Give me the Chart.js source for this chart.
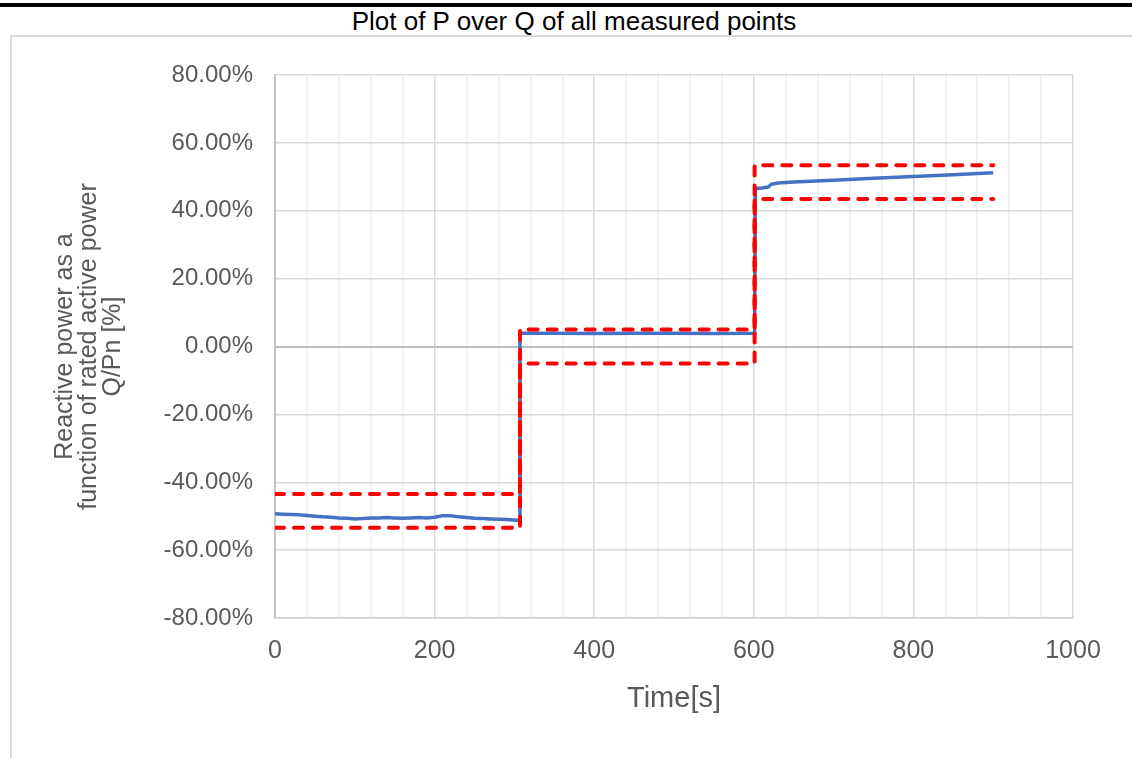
<!DOCTYPE html>
<html>
<head>
<meta charset="utf-8">
<script src="https://cdn.jsdelivr.net/npm/chart.js@4.4.1/dist/chart.umd.min.js"></script>
<style>
  html, body { margin:0; padding:0; background:#fff; }
  body { width:1132px; height:758px; position:relative; overflow:hidden; font-family:"Liberation Sans", Arial, sans-serif; }
  #topline { position:absolute; left:0; top:3px; width:1132px; height:4px; background:#000; }
  #title { position:absolute; left:0; top:6px; width:1148px; text-align:center; font-size:26px; color:#000; }
  #frame { position:absolute; left:10px; top:35px; width:1140px; height:740px; border-left:2px solid #d9d9d9; border-top:2px solid #d9d9d9; }
  #wrap { position:absolute; left:0; top:0; width:1132px; height:758px; }
</style>
</head>
<body>
<div id="topline"></div>
<div id="title">Plot of P over Q of all measured points</div>
<div id="frame"></div>
<div id="wrap"><canvas id="chart" width="1132" height="758"></canvas></div>
<script>
// 측정값 (Time[s], Q/Pn [%])
const measTime = [0,10,20,30,40,50,60,70,80,90,100,110,120,130,140,150,160,170,180,190,200,210,220,230,240,250,260,270,280,290,300,306,
                  307,350,400,450,500,550,601,
                  602,610,618,622,630,650,700,750,800,850,900];
const measQ = [-49.3,-49.4,-49.5,-49.6,-49.8,-50.0,-50.2,-50.3,-50.5,-50.6,-50.8,-50.7,-50.5,-50.5,-50.4,-50.5,-50.6,-50.5,-50.4,-50.5,-50.3,-49.9,-49.9,-50.2,-50.4,-50.6,-50.7,-50.8,-50.9,-51.0,-51.1,-51.3,
               3.9,3.9,3.8,3.9,3.9,3.8,3.9,
               46.5,46.7,47.0,47.8,48.2,48.5,49.0,49.6,50.1,50.6,51.2];
// 허용 범위 (상한/하한)
const limTime = [0,307,307,601,601,900];
const upperQ = [-43.43,-43.43,5,5,53.43,53.43];
const lowerQ = [-53.43,-53.43,-5,-5,43.43,43.43];
// 눈금
const xTicks = [0,200,400,600,800,1000];
const yTicks = [-80,-60,-40,-20,0,20,40,60,80];

const toXY = (xs, ys) => xs.map((x, i) => ({x:x, y:ys[i]}));
const grey = '#595959';
const fam = '"Liberation Sans", Arial, sans-serif';

let ctx = document.getElementById('chart');
let myChart = new Chart(ctx, {
    type: 'line',
    data: {
        datasets: [
            {label:'upper', data: toXY(limTime, upperQ), borderColor:'#ff0000', borderWidth:4, borderDash:[9,10], borderCapStyle:'round', pointRadius:0, fill:false},
            {label:'lower', data: toXY(limTime, lowerQ), borderColor:'#ff0000', borderWidth:4, borderDash:[9,10], borderCapStyle:'round', pointRadius:0, fill:false},
            {label:'Q/Pn', data: toXY(measTime, measQ), borderColor:'#4472c4', borderWidth:3.5, pointRadius:0, fill:false}
        ]
    },
    options: {
        responsive:false,
        animation:false,
        layout:{ padding:{ left:0, top:75, right:59, bottom:0 } },
        plugins:{ legend:{display:false}, tooltip:{enabled:false} },
        scales:{
            x:{
                type:'linear', min:0, max:1000,
                afterFit: s => { s.height = 140; },
                afterBuildTicks: s => {
                    let t = [];
                    for (let v = 0; v <= 1000; v += 40) t.push({value:v});
                    s.ticks = t;
                },
                ticks:{
                    autoSkip:false, maxRotation:0, padding:18, color:grey,
                    font:{family:fam, size:25},
                    callback: v => xTicks.includes(v) ? String(v) : ''
                },
                grid:{
                    drawTicks:false,
                    color: c => (c.tick && xTicks.includes(c.tick.value)) ? '#d9d9d9' : '#f0f0f0',
                    lineWidth:1.5
                },
                border:{ color:'#d0d0d0', width:1.5 },
                title:{ display:true, text:'Time[s]', color:grey, font:{family:fam, size:29}, padding:{top:0, bottom:42} }
            },
            y:{
                type:'linear', min:-80, max:80,
                afterFit: s => { s.width = 275; },
                afterBuildTicks: s => { s.ticks = yTicks.map(v => ({value:v})); },
                ticks:{
                    padding:22, color:grey,
                    font:{family:fam, size:24},
                    callback: v => v.toFixed(2) + '%'
                },
                grid:{
                    drawTicks:false,
                    color: c => (c.tick && c.tick.value === 0) ? '#bfbfbf' : '#d9d9d9',
                    lineWidth: c => (c.tick && c.tick.value === 0) ? 2 : 1.5
                },
                border:{ color:'#c4c4c4', width:2 },
                title:{
                    display:true,
                    text:['Reactive power as a', 'function of rated active power', 'Q/Pn [%]'],
                    color:grey, font:{family:fam, size:25, lineHeight:0.96},
                    padding:{top:53, bottom:0}
                }
            }
        }
    }
});
</script>
</body>
</html>
